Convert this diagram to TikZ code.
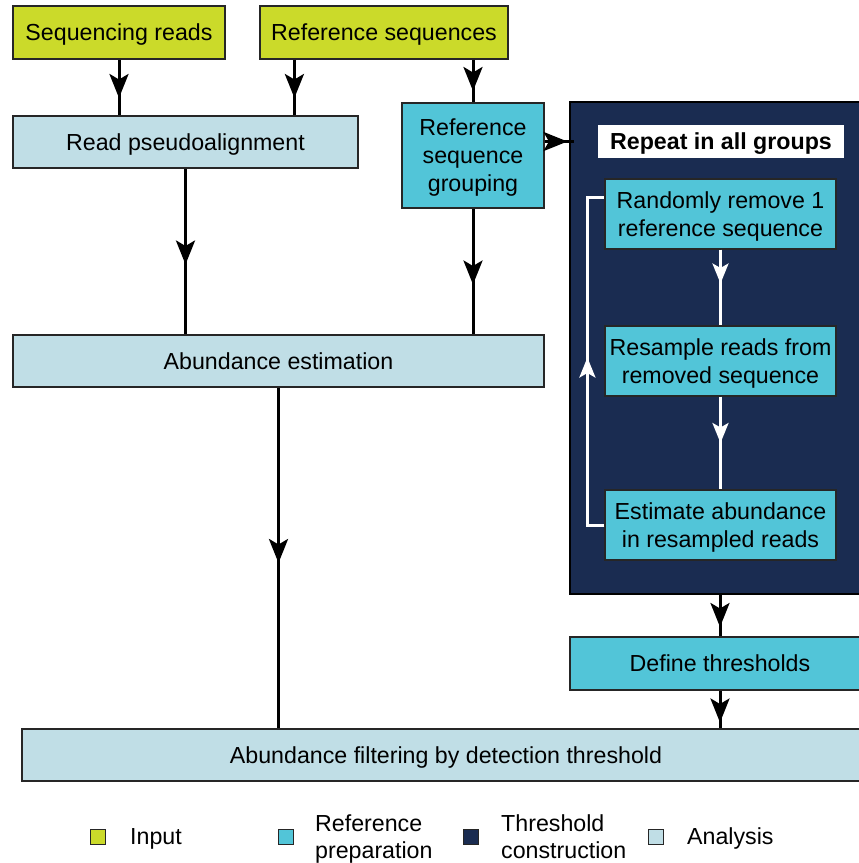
\documentclass[tikz,border=0pt]{standalone}
\usepackage{fontspec}
\setmainfont{Liberation Sans}
\usetikzlibrary{arrows.meta,decorations.markings,calc}
\definecolor{cinput}{HTML}{CBDA2A}
\definecolor{cref}{HTML}{52C5D8}
\definecolor{cthr}{HTML}{1A2C51}
\definecolor{cana}{HTML}{C0DEE6}
\newcommand\lw[2][c]{\raisebox{-2.5pt}[\height][\depth]{\begin{tabular}{@{}#1@{}}#2\end{tabular}}}
\tikzset{
 box/.style={draw=black!85, line width=1.2pt, inner sep=0pt, font=\fontsize{23.2pt}{28pt}\selectfont, text=black},
 inbox/.style={box, fill=cinput},
 refbox/.style={box, fill=cref},
 anabox/.style={box, fill=cana},
 thrbox/.style={draw=black, line width=1.2pt, fill=cthr, inner sep=0pt},
 conn/.style={line width=3pt, draw=black},
 wconn/.style={line width=3pt, draw=white},
 barr/.style={postaction={decorate}, decoration={markings, mark=at position 0.5 with {\arrow[xshift=#1]{Stealth[length=24pt,width=19pt,inset=5.5pt]}}}},
 barr/.default=11pt,
 warr/.style={postaction={decorate}, decoration={markings, mark=at position 0.5 with {\arrow[xshift=#1]{Stealth[length=20pt,width=16pt,inset=4.5pt]}}}},
 warr/.default=0pt,
 legsq/.style={draw=black!85, line width=1.2pt, minimum size=15pt, inner sep=0pt},
 legtxt/.style={anchor=west, inner sep=0pt, font=\fontsize{23.2pt}{27pt}\selectfont}
}
\begin{document}
\begin{tikzpicture}[x=1pt,y=-1pt]
\useasboundingbox (0,0) rectangle (859,863);
\clip (0,0) rectangle (859,863);
\node[thrbox, minimum width=300pt, minimum height=492pt] (dark) at (720,348) {};
\node[inbox, minimum width=212pt, minimum height=53pt] (seq) at (119,32.5) {\lw{Sequencing reads}};
\node[inbox, minimum width=248pt, minimum height=53pt] (ref) at (384,32.5) {\lw{Reference sequences}};
\node[anabox, minimum width=345pt, minimum height=52pt] (pseudo) at (185.5,142) {\lw{Read pseudoalignment}};
\node[refbox, minimum width=142pt, minimum height=105pt] (group) at (473,155.5) {\lw{Reference\\sequence\\grouping}};
\node[anabox, minimum width=531pt, minimum height=52pt] (abund) at (278.5,361) {\lw{Abundance estimation}};
\node[box, draw=none, fill=white, minimum width=246pt, minimum height=33pt, font=\fontsize{23.2pt}{28pt}\selectfont\bfseries] (repeat) at (721,141.5) {\lw{Repeat in all groups}};
\node[refbox, minimum width=231pt, minimum height=70pt] (rand) at (720.5,214) {\lw{Randomly remove 1\\reference sequence}};
\node[refbox, minimum width=231pt, minimum height=70pt] (resamp) at (720.5,361) {\lw{Resample reads from\\removed sequence}};
\node[refbox, minimum width=231pt, minimum height=70pt] (est) at (720.5,525) {\lw{Estimate abundance\\in resampled reads}};
\node[refbox, minimum width=300pt, minimum height=53pt] (define) at (720,663.5) {\lw{Define thresholds}};
\node[anabox, minimum width=848pt, minimum height=52pt] (filter) at (446,755) {\lw{Abundance filtering by detection threshold}};

\draw[conn, barr=10.5pt] (seq.south) -- (seq.south |- pseudo.north);
\draw[conn, barr=10.5pt] ([xshift=35pt]ref.south west) -- ([xshift=35pt]ref.south west |- pseudo.north);
\draw[conn, barr=10pt] (group.north |- ref.south) -- (group.north);
\draw[conn, barr=13pt] (pseudo.south) -- (pseudo.south |- abund.north);
\draw[conn, barr=13pt] (group.south) -- (group.south |- abund.north);
\draw[conn, barr=5pt] (abund.south) -- (abund.south |- filter.north);
\draw[conn, barr=8pt] (group.east |- repeat.west) -- ([xshift=5pt]dark.west |- repeat.west);
\draw[conn, barr=11.5pt] (dark.south) -- (define.north);
\draw[conn, barr=13pt] (define.south) -- (define.south |- filter.north);
\draw[wconn, warr=-4pt] (rand.south) -- (resamp.north);
\draw[wconn, warr=0pt] (resamp.south) -- (est.north);
\draw[wconn, warr=3.5pt] (est.west) -- ++(-17,0) |- ([yshift=17pt]rand.west);

\node[legsq, fill=cinput] (l1) at (98,837) {};
\node[legtxt] (t1) at (130,837) {\lw[l]{Input}};
\node[legsq, fill=cref] (l2) at (286,837) {};
\node[legtxt] (t2) at (315,837.5) {\lw[l]{Reference\\preparation}};
\node[legsq, fill=cthr] (l3) at (471,837) {};
\node[legtxt] (t3) at (501,837.5) {\lw[l]{Threshold\\construction}};
\node[legsq, fill=cana] (l4) at (656,837) {};
\node[legtxt] (t4) at (687,837) {\lw[l]{Analysis}};
\end{tikzpicture}
\end{document}
